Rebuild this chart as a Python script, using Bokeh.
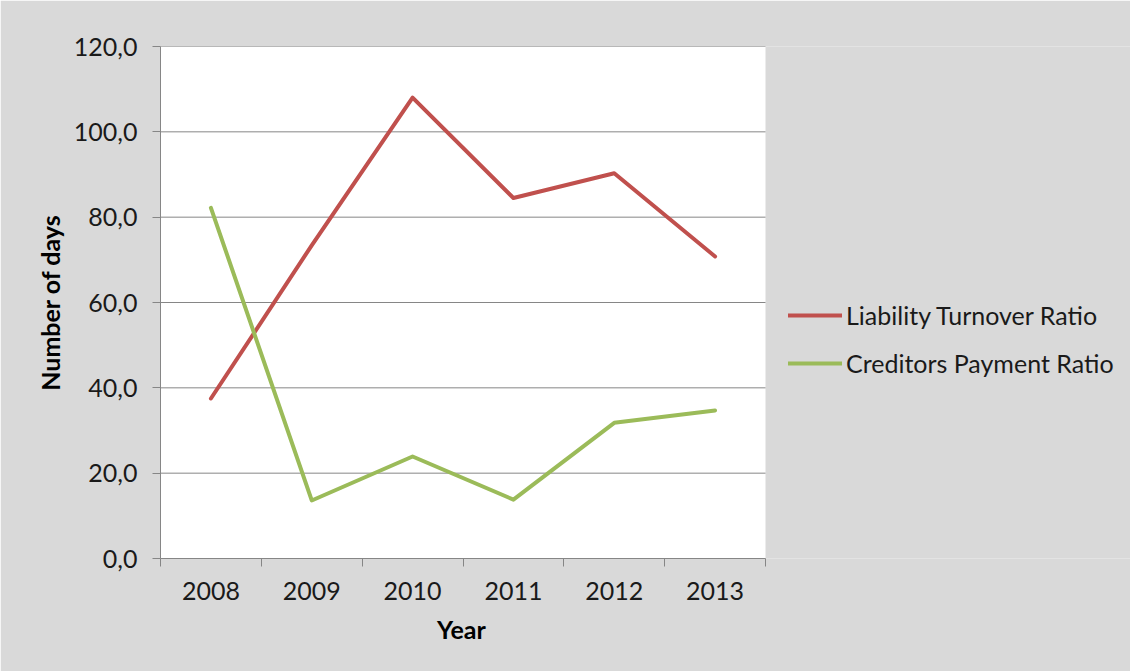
from bokeh.plotting import figure
from bokeh.models import Range1d, FixedTicker, Legend, LegendItem, BoxAnnotation, Title
from bokeh.embed import file_html
from bokeh.resources import INLINE

years = ["2008", "2009", "2010", "2011", "2012", "2013"]
liability_turnover = [37.5, 73.4, 108.0, 84.5, 90.3, 70.8]
creditors_payment = [82.2, 13.6, 23.9, 13.8, 31.8, 34.7]
y_ticks = [0, 20, 40, 60, 80, 100, 120]
y_tick_labels = [f"{v:.1f}".replace(".", ",") for v in y_ticks]

FONT = "Lato"
TXT = "#1a1a1a"
GRID = "#868686"
BG = "#d9d9d9"

n = len(years)
xs = [i + 0.5 for i in range(n)]

W, H = 1130, 671
LEFT, TOP = 160, 46
BOTTOM = H - TOP - 512
PLOT_W = 605  # pixel width of the white plotting area
x_end = n * (W - LEFT) / PLOT_W  # frame extends to the right to host the legend

p = figure(width=W, height=H, output_backend="svg", toolbar_location=None,
           x_range=Range1d(0, x_end), y_range=Range1d(0, 120),
           min_border_left=LEFT, min_border_top=TOP, min_border_bottom=BOTTOM, min_border_right=0,
           background_fill_color=BG, border_fill_color=BG,
           outline_line_color=None)

# white plotting area
p.add_layout(BoxAnnotation(left=0, right=n, bottom=0, top=120, fill_color="white",
                           fill_alpha=1, line_color=None, level="underlay"))

# horizontal gridlines over the plotting area only
p.segment(x0=[0] * (len(y_ticks) - 1), x1=[n] * (len(y_ticks) - 1),
          y0=y_ticks[1:], y1=y_ticks[1:], line_color=GRID, line_width=1)

r1 = p.line(xs, liability_turnover, line_color="#C0504D", line_width=4, line_join="round", line_cap="round")
r2 = p.line(xs, creditors_payment, line_color="#9BBB59", line_width=4, line_join="round", line_cap="round")

# x axis
p.xaxis.bounds = (0, n)
p.xaxis.ticker = FixedTicker(ticks=xs, minor_ticks=list(range(n + 1)))
p.xaxis.major_label_overrides = {x: y for x, y in zip(xs, years)}
p.xaxis.major_tick_out = 0
p.xaxis.major_tick_in = 0
p.xaxis.minor_tick_out = 8
p.xaxis.minor_tick_in = 0
p.xaxis.minor_tick_line_color = GRID
p.xaxis.axis_line_color = GRID
p.xaxis.major_label_standoff = 15

# x axis title, centred under the white plotting area
xtitle = Title(text="Year", align="left", offset=PLOT_W / 2 - 26, standoff=19,
               text_font=FONT, text_font_size="25px", text_font_style="bold",
               text_color="#000000")
p.add_layout(xtitle, "below")

# y axis
p.yaxis.ticker = FixedTicker(ticks=y_ticks, minor_ticks=[])
p.yaxis.major_label_overrides = {v: s for v, s in zip(y_ticks, y_tick_labels)}
p.yaxis.major_tick_out = 8
p.yaxis.major_tick_in = 0
p.yaxis.major_tick_line_color = GRID
p.yaxis.axis_line_color = GRID
p.yaxis.major_label_standoff = 15
p.yaxis.axis_label = "Number of days"
p.yaxis.axis_label_standoff = 6

for ax in (p.xaxis[0], p.yaxis[0]):
    ax.major_label_text_font = FONT
    ax.major_label_text_font_size = "25px"
    ax.major_label_text_color = TXT
    ax.axis_label_text_font = FONT
    ax.axis_label_text_font_size = "25px"
    ax.axis_label_text_font_style = "bold"
    ax.axis_label_text_color = "#000000"

p.xgrid.grid_line_color = None
p.ygrid.grid_line_color = None

legend = Legend(items=[LegendItem(label="Liability Turnover Ratio", renderers=[r1]),
                       LegendItem(label="Creditors Payment Ratio", renderers=[r2])],
                location=(628, 180), orientation="vertical",
                background_fill_alpha=0, border_line_color=None,
                padding=0, margin=0, spacing=18,
                glyph_width=54, glyph_height=28, label_height=28, label_standoff=4,
                label_text_font=FONT, label_text_font_size="25px", label_text_color=TXT)
p.add_layout(legend, "center")

open("out.html", "w").write(file_html(p, INLINE))
